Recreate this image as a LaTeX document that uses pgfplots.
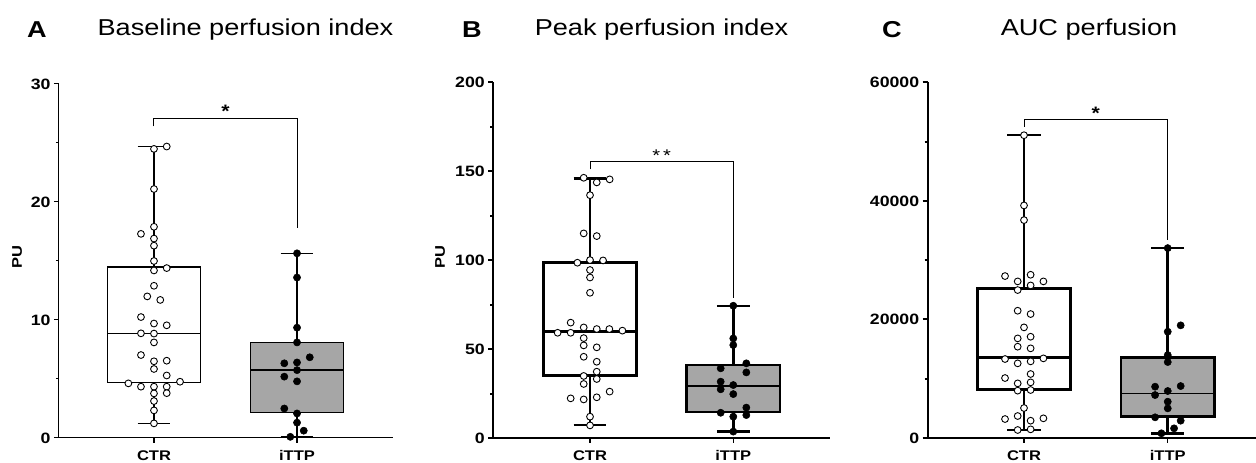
\documentclass[border=0pt]{standalone}
\usepackage{fontspec}
\setmainfont[FakeStretch=1.18]{Liberation Sans}
\usepackage{pgfplots}
\pgfplotsset{compat=1.18}
\definecolor{boxgray}{RGB}{166,166,166}

\pgfplotsset{
  panel/.style={
    scale only axis,
    axis x line=bottom, axis y line=left,
    axis line style={-, black},
    xtick={1,2}, xticklabels={CTR,iTTP},
    tick align=outside,
    major tick length=5pt, minor tick length=3pt,
    minor y tick num=1,
    xtick style={black, line width=1.2pt},
    xticklabel style={font=\fontsize{14}{14}\selectfont\bfseries, yshift=-4pt},
    yticklabel style={font=\fontsize{15}{15}\selectfont\bfseries},
    scaled y ticks=false,
    clip=false,
    ymin=0,
  },
  ctrdots/.style={only marks, mark=*, mark size=3.4pt, mark options={fill=white, draw=black, line width=0.9pt}},
  ittpdots/.style={only marks, mark=*, mark size=3.6pt, mark options={fill=black, draw=black, line width=0.5pt}},
  bracket/.style={black, line width=1pt, mark=none},
}

\begin{document}
\begin{tikzpicture}[x=1pt,y=1pt]
\useasboundingbox (0,0) rectangle (1256,463);

% ---------- titles ----------
\node[anchor=base, font=\fontsize{23}{23}\selectfont\bfseries] at (37,425.7) {A};
\node[anchor=base, font=\fontsize{23}{23}\selectfont\bfseries] at (472,425.7) {B};
\node[anchor=base, font=\fontsize{23}{23}\selectfont\bfseries] at (892,425.7) {C};
\node[anchor=base, font=\fontsize{23}{23}\selectfont] at (245.5,427) {Baseline perfusion index};
\node[anchor=base, font=\fontsize{23}{23}\selectfont] at (661.5,427) {Peak perfusion index};
\node[anchor=base, font=\fontsize{23}{23}\selectfont] at (1089,427) {AUC perfusion};
\node[rotate=90, font=\fontsize{14}{14}\selectfont\bfseries] at (17.2,206.3) {PU};
\node[rotate=90, font=\fontsize{14}{14}\selectfont\bfseries] at (440,205.5) {PU};

% ---------- Panel A ----------
\begin{axis}[panel, at={(59pt,25pt)}, anchor=south west,
  width=334.3pt, height=354pt, xmin=0.336, xmax=2.673, ymax=30,
  ytick={0,10,20,30}, yticklabels={0,10,20,30},
  axis line style={line width=1pt}, ytick style={black, line width=1pt}]
% CTR box: whiskers 1.24 / 24.7, quartiles 4.69 / 14.5, median 8.85
\addplot[black, line width=1.3pt] coordinates {(1,1.24) (1,24.7)};
\addplot[black, line width=1.3pt] coordinates {(0.885,24.7) (1.115,24.7)};
\addplot[black, line width=1.3pt] coordinates {(0.885,1.24) (1.115,1.24)};
\addplot[draw=black, fill=white, line width=1.3pt] coordinates {(0.675,4.69) (1.325,4.69) (1.325,14.5) (0.675,14.5)} -- cycle;
\addplot[black, line width=1.3pt] coordinates {(0.675,8.85) (1.325,8.85)};
% iTTP box: whiskers 0.1 / 15.65, quartiles 2.17 / 8.08, median 5.76
\addplot[black, line width=1.3pt] coordinates {(2,0.1) (2,15.65)};
\addplot[black, line width=1.3pt] coordinates {(1.885,15.65) (2.115,15.65)};
\addplot[black, line width=1.3pt] coordinates {(1.885,0.1) (2.115,0.1)};
\addplot[draw=black, fill=boxgray, line width=1.3pt] coordinates {(1.675,2.17) (2.325,2.17) (2.325,8.08) (1.675,8.08)} -- cycle;
\addplot[black, line width=1.3pt] coordinates {(1.675,5.76) (2.325,5.76)};
\addplot[ctrdots] table {
x y
1.089 24.7
1.000 24.5
1.000 21.1
1.000 17.9
0.909 17.3
1.000 16.9
1.000 16.3
1.000 15.0
1.089 14.4
1.000 14.2
1.000 12.9
0.953 12.0
1.044 11.7
0.909 10.25
1.000 9.7
1.089 9.55
0.909 8.87
1.000 8.85
1.000 8.1
0.909 7.03
1.000 6.5
1.089 6.55
1.000 5.85
1.089 5.3
1.182 4.77
0.821 4.63
0.909 4.35
1.000 4.35
1.089 4.35
1.000 3.78
1.089 3.8
1.000 3.13
1.000 2.34
1.000 1.24
};
\addplot[ittpdots] table {
x y
2.000 15.65
2.000 13.6
2.000 9.35
2.000 8.1
2.089 6.84
1.911 6.33
2.000 6.4
2.000 5.75
1.911 5.2
2.000 4.8
1.911 2.5
2.000 2.08
2.000 1.3
2.047 0.62
1.953 0.1
};
\addplot[bracket] coordinates {(1,26.4) (1,27.1) (2,27.1) (2,17.8)};
\node[anchor=base, font=\fontsize{18}{18}\selectfont\bfseries] at (axis cs:1.5,27.2) {*};
\end{axis}

% ---------- Panel B ----------
\begin{axis}[panel, at={(493.3pt,25pt)}, anchor=south west,
  width=336.7pt, height=355.5pt, xmin=0.325, xmax=2.675, ymax=200,
  ytick={0,50,100,150,200}, yticklabels={0,50,100,150,200},
  axis line style={line width=1.3pt}, ytick style={black, line width=2pt},
  y axis line style={line width=2pt}]
% CTR box: whiskers 7.3 / 146, quartiles 35.2 / 98.6, median 59.8
\addplot[black, line width=2.5pt] coordinates {(1,7.3) (1,146.0)};
\addplot[black, line width=2.5pt] coordinates {(0.885,146.0) (1.115,146.0)};
\addplot[black, line width=2.5pt] coordinates {(0.885,7.3) (1.115,7.3)};
\addplot[draw=black, fill=white, line width=2.5pt] coordinates {(0.675,35.2) (1.325,35.2) (1.325,98.6) (0.675,98.6)} -- cycle;
\addplot[black, line width=2.5pt] coordinates {(0.675,59.8) (1.325,59.8)};
% iTTP box: whiskers 3.6 / 74.4, quartiles 14.6 / 41.0, median 29.2
\addplot[black, line width=2.5pt] coordinates {(2,3.6) (2,74.4)};
\addplot[black, line width=2.5pt] coordinates {(1.885,74.4) (2.115,74.4)};
\addplot[black, line width=2.5pt] coordinates {(1.885,3.6) (2.115,3.6)};
\addplot[draw=black, fill=boxgray, line width=2.5pt] coordinates {(1.675,14.6) (2.325,14.6) (2.325,41.0) (1.675,41.0)} -- cycle;
\addplot[black, line width=2.5pt] coordinates {(1.675,29.2) (2.325,29.2)};
\addplot[ctrdots] table {
x y
0.956 146.4
1.047 143.8
1.137 145.5
1.000 136.6
0.956 115.1
1.047 113.6
0.912 98.6
1.000 100.1
1.091 99.9
1.000 94.5
1.000 90.3
1.000 81.7
0.865 64.9
0.956 62.2
1.047 61.3
1.135 61.3
1.226 60.4
0.774 59.2
0.865 59.2
0.956 56.2
0.956 52.1
1.047 51.0
0.956 45.7
1.047 42.9
1.047 37.3
0.956 34.9
1.047 33.2
0.956 30.4
1.137 26.1
0.865 22.3
0.956 21.7
1.047 22.9
1.000 12.0
1.000 7.1
};
\addplot[ittpdots] table {
x y
2.000 74.4
2.000 56.0
2.000 52.3
2.091 42.0
1.912 39.2
2.091 36.9
1.912 31.7
2.000 29.8
1.912 27.4
2.000 24.7
2.091 17.1
1.912 14.2
2.091 12.9
2.000 12.0
2.000 3.6
};
\addplot[bracket] coordinates {(1,151.1) (1,155.4) (2,155.4) (2,78.5)};
\node[anchor=base, font=\fontsize{17}{17}\selectfont] at (axis cs:1.5,155.5) {*\hspace{3pt}*};
\end{axis}

% ---------- Panel C (values in thousands, labelled in units) ----------
\begin{axis}[panel, at={(927.7pt,25pt)}, anchor=south west,
  width=328pt, height=355.5pt, xmin=0.330, xmax=2.612, ymax=60,
  ytick={0,20,40,60}, yticklabels={0,20000,40000,60000},
  axis line style={line width=1.3pt}, ytick style={black, line width=2pt},
  y axis line style={line width=2pt}]
% CTR box: whiskers 1.35 / 51.114, quartiles 8.21 / 25.191, median 13.608
\addplot[black, line width=2.5pt] coordinates {(1,1.35) (1,51.114)};
\addplot[black, line width=2.5pt] coordinates {(0.885,51.114) (1.115,51.114)};
\addplot[black, line width=2.5pt] coordinates {(0.885,1.35) (1.115,1.35)};
\addplot[draw=black, fill=white, line width=2.5pt] coordinates {(0.675,8.21) (1.325,8.21) (1.325,25.191) (0.675,25.191)} -- cycle;
\addplot[black, line width=2.5pt] coordinates {(0.675,13.608) (1.325,13.608)};
% iTTP box: whiskers 0.79 / 32.05, quartiles 3.6 / 13.6, median 7.535
\addplot[black, line width=2.5pt] coordinates {(2,0.79) (2,32.05)};
\addplot[black, line width=2.5pt] coordinates {(1.885,32.05) (2.115,32.05)};
\addplot[black, line width=2.5pt] coordinates {(1.885,0.79) (2.115,0.79)};
\addplot[draw=black, fill=boxgray, line width=2.5pt] coordinates {(1.675,3.6) (2.325,3.6) (2.325,13.6) (1.675,13.6)} -- cycle;
\addplot[black, line width=1.5pt] coordinates {(1.675,7.535) (2.325,7.535)};
\addplot[ctrdots] table {
x y
1.000 51.10
1.000 39.25
1.000 36.775
0.868 27.33
1.046 27.55
0.956 26.43
1.046 25.75
1.135 26.43
0.956 24.97
0.956 21.48
1.046 20.92
1.000 18.67
0.956 16.81
1.046 17.09
0.956 15.41
1.046 15.13
0.868 13.33
1.135 13.44
0.956 12.60
1.046 12.93
1.046 10.80
0.868 10.12
0.956 9.22
1.046 9.39
0.956 7.99
1.046 8.10
1.000 5.06
0.956 3.71
0.868 3.20
1.135 3.32
1.046 2.92
1.046 1.46
0.956 1.35
};
\addplot[ittpdots] table {
x y
2.000 32.05
2.000 17.94
2.090 19.01
2.000 14.00
2.000 12.82
1.912 8.66
2.090 8.77
2.000 7.93
1.912 7.25
2.000 6.13
2.000 5.00
1.912 3.49
2.090 2.92
2.044 1.63
1.956 0.79
};
\addplot[bracket] coordinates {(1,52.52) (1,53.76) (2,53.76) (2,33.40)};
\node[anchor=base, font=\fontsize{18}{18}\selectfont\bfseries] at (axis cs:1.5,53.7) {*};
\end{axis}
\end{tikzpicture}
\end{document}
